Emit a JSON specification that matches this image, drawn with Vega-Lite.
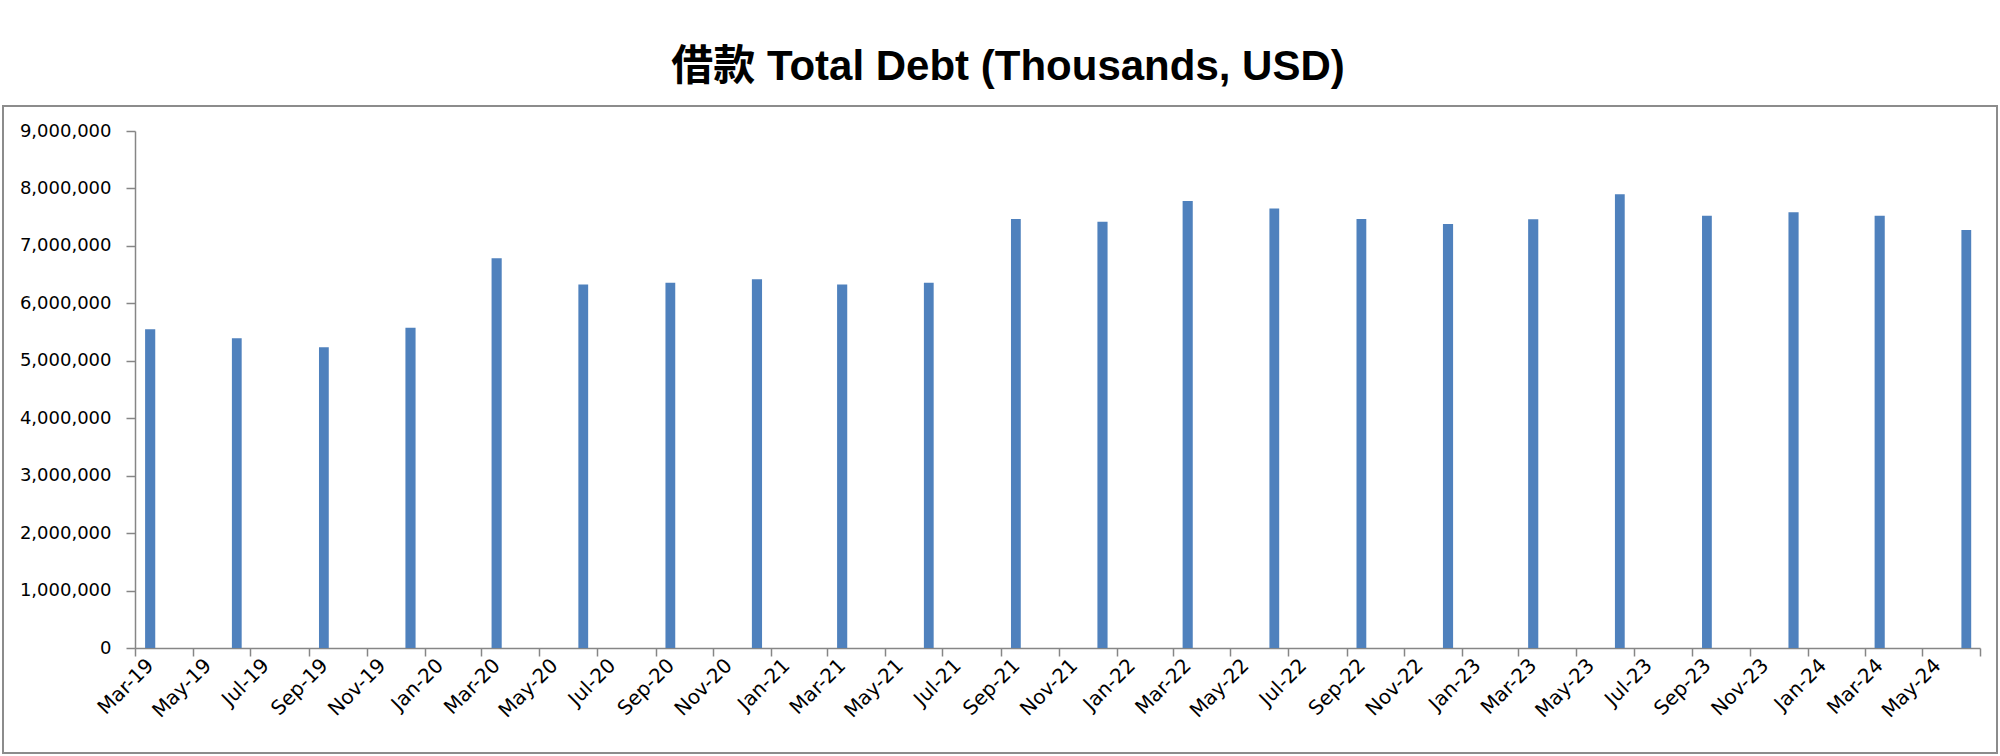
{
  "$schema": "https://vega.github.io/schema/vega-lite/v6.json",
  "width": 1994,
  "height": 647,
  "autosize": {"type": "none"},
  "padding": {"left": 3, "top": 106, "right": 3, "bottom": 3},
  "background": "white",
  "title": {
    "text": "借款 Total Debt (Thousands, USD)",
    "font": "Liberation Sans, Noto Sans CJK SC",
    "fontSize": 42,
    "fontWeight": "bold",
    "color": "#000000",
    "anchor": "middle",
    "dx": 8,
    "offset": 17
  },
  "data": {
    "values": [
      {"date": "2019/03/01", "debt": 5548000},
      {"date": "2019/06/01", "debt": 5391000},
      {"date": "2019/09/01", "debt": 5235000},
      {"date": "2019/12/01", "debt": 5576000},
      {"date": "2020/03/01", "debt": 6784000},
      {"date": "2020/06/01", "debt": 6330000},
      {"date": "2020/09/01", "debt": 6360000},
      {"date": "2020/12/01", "debt": 6420000},
      {"date": "2021/03/01", "debt": 6330000},
      {"date": "2021/06/01", "debt": 6360000},
      {"date": "2021/09/01", "debt": 7470000},
      {"date": "2021/12/01", "debt": 7420000},
      {"date": "2022/03/01", "debt": 7780000},
      {"date": "2022/06/01", "debt": 7650000},
      {"date": "2022/09/01", "debt": 7470000},
      {"date": "2022/12/01", "debt": 7380000},
      {"date": "2023/03/01", "debt": 7463000},
      {"date": "2023/06/01", "debt": 7898000},
      {"date": "2023/09/01", "debt": 7526000},
      {"date": "2023/12/01", "debt": 7584000},
      {"date": "2024/03/01", "debt": 7526000},
      {"date": "2024/06/01", "debt": 7277000}
    ]
  },
  "mark": {"type": "bar", "color": "#4F81BD", "width": {"band": 0.38}},
  "encoding": {
    "x": {
      "field": "date",
      "timeUnit": "yearmonth",
      "type": "temporal",
      "scale": {
        "domain": [{"year": 2019, "month": "mar", "date": 1}, {"year": 2024, "month": "jul", "date": 1}],
        "range": [132, 1977],
        "nice": false
      },
      "axis": {
        "title": null,
        "grid": false,
        "tickCount": {"interval": "month", "step": 2},
        "labelExpr": "year(datum.value) == 2024 && month(datum.value) == 6 ? '' : timeFormat(datum.value, '%b-%y')",
        "labelAngle": -45,
        "labelAlign": "right",
        "labelBaseline": "middle",
        "labelOffset": 15,
        "labelPadding": 6,
        "labelFlush": false,
        "labelOverlap": false,
        "labelFont": "DejaVu Sans",
        "labelFontSize": 20,
        "labelColor": "#000000",
        "tickSize": 8,
        "tickColor": "#868686",
        "tickWidth": 1.5,
        "domainColor": "#868686",
        "domainWidth": 1.5,
        "offset": -105
      }
    },
    "y": {
      "field": "debt",
      "type": "quantitative",
      "scale": {"domain": [0, 9000000], "range": [542, 25], "nice": false},
      "axis": {
        "title": null,
        "grid": false,
        "tickCount": 9,
        "format": ",.0f",
        "labelFont": "DejaVu Sans",
        "labelFontSize": 18,
        "labelColor": "#000000",
        "labelPadding": 15,
        "tickSize": 9,
        "tickColor": "#868686",
        "tickWidth": 1.5,
        "domainColor": "#868686",
        "domainWidth": 1.5,
        "offset": -132
      }
    }
  },
  "config": {
    "view": {"stroke": "#8c8c8c", "strokeWidth": 2}
  }
}
